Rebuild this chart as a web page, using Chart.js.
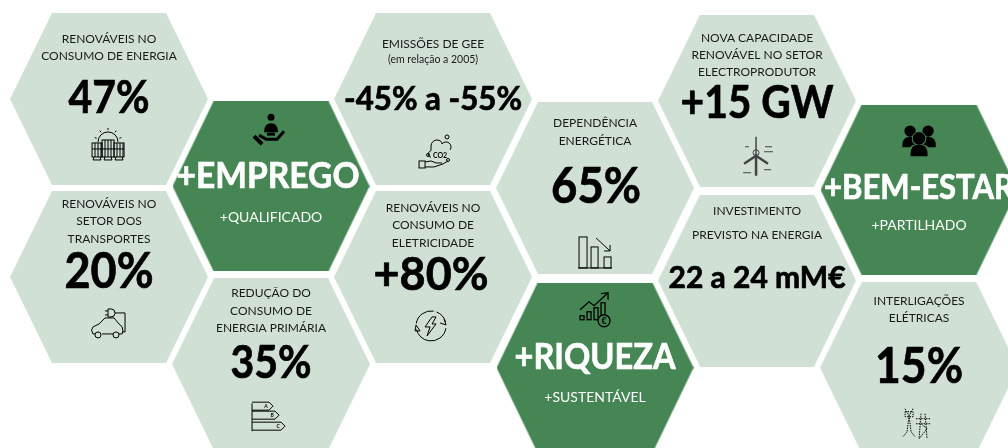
<!DOCTYPE html>
<html>
<head>
<meta charset="utf-8">
<title>Metas energia</title>
<script src="https://cdn.jsdelivr.net/npm/chart.js@4"></script>
<style>
	html, body { margin: 0; padding: 0; background: #fff; overflow: hidden; }
	#wrap { width: 1008px; height: 448px; }
</style>
</head>
<body>
<div id="wrap"><canvas id="mycanvas" width="1008" height="448"></canvas></div>
<script>
// grid position of each hexagon (column, row)
var hexCol = [0, 0, 1, 1, 2, 2, 3, 3, 4, 4, 5, 5];
var hexRow = [0, 1, 0.49, 1.49, 0, 1, 0.5, 1.51, 0.01, 1.02, 0.51, 1.51];
var hexDark = [false, false, true, false, false, false, false, true, false, false, true, false];

var hexTitles = [
	["RENOVÁVEIS NO", "CONSUMO DE ENERGIA"],
	["RENOVÁVEIS NO", "SETOR DOS", "TRANSPORTES"],
	[],
	["REDUÇÃO DO", "CONSUMO DE", "ENERGIA PRIMÁRIA"],
	["EMISSÕES DE GEE"],
	["RENOVÁVEIS NO", "CONSUMO DE", "ELETRICIDADE"],
	["DEPENDÊNCIA", "ENERGÉTICA"],
	[],
	["NOVA CAPACIDADE", "RENOVÁVEL NO SETOR", "ELECTROPRODUTOR"],
	["INVESTIMENTO", "PREVISTO NA ENERGIA"],
	[],
	["INTERLIGAÇÕES", "ELÉTRICAS"]
];
var hexValues = ["47%", "20%", "+EMPREGO", "35%", "-45% a -55%", "+80%", "65%", "+RIQUEZA", "+15 GW", "22 a 24 mM€", "+BEM-ESTAR", "15%"];
var hexNotes = ["", "", "+QUALIFICADO", "", "(em relação a 2005)", "", "", "+SUSTENTÁVEL", "", "", "+PARTILHADO", ""];
var hexIcons = ["solar", "car", "care", "label", "co2", "bolt", "down", "growth", "wind", "", "people", "pylon"];

// text layout per hexagon, offsets from the hexagon centre
var titleTop = [-60, -73, 0, -71, -55, -69, -65, 0, -63, -69, 0, -67];
var titleStep = [17, 17.5, 0, 17.5, 0, 17.5, 18, 0, 17, 24, 0, 17];
var valueDx = [0, 0, -3, 0, 0, -2, 1, 0, 0, 0, 0, 0];
var valueDy = [0, -5, -10, -1, 1, -1, -1, -11, 3, -2, -2, -1];
var valueWidth = [81, 89, 183, 81, 178, 115, 90, 161, 153, 177, 190, 88];
var valueSize = [45, 49, 37, 45, 32, 45, 49, 37, 45, 30, 34, 50];
var noteDy = [0, 0, 31, 0, -39, 0, 0, 30, 0, 0, 36, 0];
var iconDx = [-1, -1, 0, -2, 4, -2, 0, 0, -1, 0, 0, -1];
var iconDy = [46, 45, -55, 52, 56, 49, 65, -57, 55, 0, -50, 56];

function hexImage(color, w, h, inset) {
	var c = document.createElement("canvas");
	c.width = w;
	c.height = h;
	var g = c.getContext("2d");
	g.fillStyle = color;
	g.beginPath();
	g.moveTo(0, h / 2);
	g.lineTo(inset, 0);
	g.lineTo(w - inset, 0);
	g.lineTo(w, h / 2);
	g.lineTo(w - inset, h);
	g.lineTo(inset, h);
	g.closePath();
	g.fill();
	return c;
}

var lightHex = hexImage("#d0e0d4", 198, 172, 42);
var darkHex = hexImage("#458654", 197, 170, 41);

function line(g, pts) {
	g.beginPath();
	g.moveTo(pts[0], pts[1]);
	for (var i = 2; i < pts.length; i += 2) {
		g.lineTo(pts[i], pts[i + 1]);
	}
	g.stroke();
}

function circle(g, x, y, r, fill) {
	g.beginPath();
	g.arc(x, y, r, 0, Math.PI * 2);
	if (fill) g.fill(); else g.stroke();
}

var iconDraw = {
	solar: function(g) {
		g.beginPath();
		g.arc(0, -3, 10, Math.PI, 0);
		g.stroke();
		for (var a = 0; a < 5; a++) {
			var t = Math.PI + (a + 0.5) * Math.PI / 5;
			line(g, [Math.cos(t) * 12, -3 + Math.sin(t) * 12, Math.cos(t) * 14, -3 + Math.sin(t) * 14]);
		}
		[-11, 0, 11].forEach(function(x) {
			var hw = x === 0 ? 6 : 5;
			var top = x === 0 ? -5 : -2;
			g.strokeRect(x - hw, top, hw * 2, 12 - top);
			for (var i = -hw + 3; i < hw; i += 3) line(g, [x + i, top, x + i, 12]);
			line(g, [x - hw, 4, x + hw, 4]);
			line(g, [x - 3, 12, x - 4, 15, x + 4, 15, x + 3, 12]);
		});
	},
	car: function(g) {
		g.beginPath();
		g.moveTo(-13, 12);
		g.lineTo(-15, 12);
		g.quadraticCurveTo(-18, 8, -15, 5);
		g.lineTo(-9, 2);
		g.lineTo(-3, -4);
		g.lineTo(6, -4);
		g.lineTo(11, 2);
		g.quadraticCurveTo(15, 4, 15, 9);
		g.lineTo(14, 12);
		g.lineTo(11, 12);
		g.moveTo(-6, 12);
		g.lineTo(5, 12);
		g.stroke();
		circle(g, -10, 13, 3, false);
		circle(g, 8, 13, 3, false);
		line(g, [14, 10, 17, 10, 17, -9, 7, -9]);
		g.beginPath();
		g.moveTo(0, -13);
		g.lineTo(3, -13);
		g.arc(3, -9, 4, -Math.PI / 2, Math.PI / 2);
		g.lineTo(0, -5);
		g.closePath();
		g.stroke();
		line(g, [-3, -11, 0, -11]);
		line(g, [-3, -7, 0, -7]);
	},
	care: function(g) {
		circle(g, 0, -14, 3.5, true);
		g.beginPath();
		g.moveTo(-7, 1);
		g.quadraticCurveTo(-7, -8, 0, -8);
		g.quadraticCurveTo(7, -8, 7, 1);
		g.closePath();
		g.fill();
		g.lineWidth = 3;
		line(g, [-12, 4, -5, 8, 6, 8, 13, 0]);
		line(g, [-4, 3, 4, 3]);
		g.lineWidth = 4;
		line(g, [-17, 5, -9, 13]);
	},
	label: function(g) {
		var bars = [[-5, 21, "A"], [4, 27, "B"], [15, 33, "C"]];
		g.font = "bold 5px Lato";
		g.textAlign = "center";
		g.textBaseline = "middle";
		bars.forEach(function(b, i) {
			var y = b[0] - 5;
			var w = b[1];
			g.beginPath();
			g.moveTo(-17, y - 4);
			g.lineTo(w - 21, y - 4);
			g.lineTo(w - 17, y);
			g.lineTo(w - 21, y + 4);
			g.lineTo(-17, y + 4);
			g.stroke();
			g.fillText(b[2], w - 24, y + 0.5);
		});
		line(g, [-17, -13, -17, 15]);
	},
	co2: function(g) {
		g.strokeRect(-18, 6, 6, 7);
		line(g, [-12, 7, -6, 6, -1, 8, 5, 8]);
		line(g, [-12, 12, -3, 12, 6, 9, 11, 6]);
		g.beginPath();
		g.arc(-5, -1, 3.5, Math.PI * 0.6, Math.PI * 1.4);
		g.arc(0, -9, 6, Math.PI, Math.PI * 1.8);
		g.arc(9, -8, 5, Math.PI * 1.2, Math.PI * 2.2);
		g.stroke();
		circle(g, 10, -18, 2, false);
		circle(g, 11, 5, 1.5, false);
		circle(g, -9, 0, 1.5, false);
		g.font = "bold 7px Lato";
		g.textAlign = "center";
		g.textBaseline = "middle";
		g.fillText("CO2", 3, 1);
	},
	bolt: function(g) {
		g.beginPath();
		g.arc(0, 0, 15, -1.2, -0.25);
		g.stroke();
		g.beginPath();
		g.arc(0, 0, 15, 0.15, 2.9);
		g.stroke();
		g.beginPath();
		g.arc(0, 0, 15, 3.3, 4.9);
		g.stroke();
		line(g, [13, -7, 15, -1, 9, -3]);
		line(g, [-15, -1, -11, 5, -16, 5, -15, -1]);
		g.beginPath();
		g.moveTo(1, -9);
		g.lineTo(-6, 1);
		g.lineTo(-1, 1);
		g.lineTo(-4, 10);
		g.lineTo(5, -2);
		g.lineTo(1, -2);
		g.lineTo(5, -9);
		g.closePath();
		g.stroke();
	},
	down: function(g) {
		g.strokeRect(-16, -16, 8, 31);
		g.strokeRect(-4, -6, 7, 21);
		g.strokeRect(9, 4, 7, 11);
		line(g, [-17, 15, 17, 15]);
		line(g, [1, -15, 15, -2]);
		line(g, [15, -8, 15, -2, 9, -2]);
	},
	growth: function(g) {
		g.lineWidth = 1.3;
		line(g, [-15, -1, -6, -9, -1, -5, 12, -17]);
		line(g, [6, -17, 13, -18, 13, -11]);
		[[-15, 5, 4], [-8, 1, 8], [-1, -3, 12], [6, -8, 17]].forEach(function(b) {
			g.strokeRect(b[0], b[1], 4, b[2]);
		});
		g.fillStyle = "#458654";
		circle(g, 9, 10, 6, true);
		circle(g, 9, 10, 6, false);
		g.fillStyle = "#000";
		g.font = "bold 9px Lato";
		g.textAlign = "center";
		g.textBaseline = "middle";
		g.fillText("€", 9, 10.5);
	},
	wind: function(g) {
		g.strokeStyle = "#444";
		g.lineWidth = 2.5;
		line(g, [0, -2, 0, 20]);
		g.lineWidth = 1.5;
		line(g, [0, -2, 0, -19]);
		g.lineWidth = 2.5;
		line(g, [0, 0, -12, 8]);
		line(g, [0, 0, 12, 8]);
		g.lineWidth = 1;
		circle(g, 0, -3, 3, false);
		line(g, [-11, -9, -7, -9]);
		line(g, [9, -9, 16, -9]);
		line(g, [8, -4, 17, -4]);
		line(g, [8, 14, 15, 14]);
		line(g, [-13, 17, -5, 17]);
	},
	pylon: function(g) {
		g.setLineDash([1.5, 1]);
		line(g, [-13, -15, -9, -8, -11, 8, -15, 13]);
		line(g, [-5, -15, -9, -8, -7, 8, -3, 13]);
		g.strokeRect(-13, -12, 8, 5);
		line(g, [3, -10, 1, 15]);
		line(g, [7, -10, 9, 15]);
		line(g, [-2, -5, 12, -5]);
		line(g, [-2, 0, 12, 0]);
		line(g, [1, 15, 9, 5, 3, 0]);
		g.setLineDash([]);
	},
	people: function(g) {
		function person(x, y, s) {
			circle(g, x, y - 7 * s, 6 * s, true);
			g.beginPath();
			g.moveTo(x - 8 * s, y + 10 * s);
			g.quadraticCurveTo(x - 9 * s, y - 1 * s, x, y - 1 * s);
			g.quadraticCurveTo(x + 9 * s, y - 1 * s, x + 8 * s, y + 10 * s);
			g.closePath();
			g.fill();
		}
		person(-9, -2, 0.95);
		person(9, -2, 0.95);
		g.strokeStyle = "#458654";
		g.lineWidth = 1.5;
		g.beginPath();
		g.arc(0, -1, 6.5, 0, Math.PI * 2);
		g.stroke();
		g.beginPath();
		g.moveTo(-10, 15);
		g.quadraticCurveTo(-11, 5, 0, 5);
		g.quadraticCurveTo(11, 5, 10, 15);
		g.stroke();
		person(0, 6, 1.05);
	}
};

var labelPlugin = {
	id: "hexLabels",
	afterDatasetsDraw: function(chart) {
		var g = chart.ctx;
		var points = chart.getDatasetMeta(0).data;
		points.forEach(function(pt, i) {
			var dark = hexDark[i];
			var cx = pt.x;
			var cy = pt.y;
			g.save();
			g.textAlign = "center";
			g.textBaseline = "middle";

			g.fillStyle = "#1a1a1a";
			g.font = "12px Lato";
			hexTitles[i].forEach(function(t, k) {
				g.fillText(t, cx, cy + titleTop[i] + k * titleStep[i], 168);
			});

			// Calibri is narrower than Lato, squeeze to the width seen in the picture
			g.fillStyle = dark ? "#ffffff" : "#000000";
			g.strokeStyle = g.fillStyle;
			g.lineWidth = 0.7;
			g.font = "bold " + valueSize[i] + "px Lato";
			g.fillText(hexValues[i], cx + valueDx[i], cy + valueDy[i], valueWidth[i]);
			g.strokeText(hexValues[i], cx + valueDx[i], cy + valueDy[i], valueWidth[i]);

			if (hexNotes[i]) {
				g.fillStyle = dark ? "#ffffff" : "#1a1a1a";
				g.font = dark ? "14px Lato" : "10.5px Lato";
				g.fillText(hexNotes[i], cx, cy + noteDy[i]);
			}

			if (iconDraw[hexIcons[i]]) {
				g.translate(cx + iconDx[i], cy + iconDy[i]);
				g.strokeStyle = "#000";
				g.fillStyle = "#000";
				g.lineWidth = 1;
				iconDraw[hexIcons[i]](g);
			}
			g.restore();
		});
	}
};

var points = hexCol.map(function(c, i) {
	return { x: c, y: hexRow[i] };
});

var hexGraph = new Chart(document.getElementById("mycanvas"), {
	type: "scatter",
	data: {
		datasets: [
			{
				label: "metas",
				data: points,
				pointStyle: hexDark.map(function(d) { return d ? darkHex : lightHex; }),
				pointRadius: 99,
				clip: false
			}
		]
	},
	options: {
		responsive: false,
		animation: false,
		events: [],
		layout: { padding: 0, autoPadding: false },
		plugins: { legend: { display: false }, tooltip: { enabled: false } },
		scales: {
			x: { type: "linear", display: false, min: -0.673, max: 5.549 },
			y: { type: "linear", display: false, reverse: true, min: -0.556, max: 1.961 }
		}
	},
	plugins: [labelPlugin]
});
</script>
</body>
</html>
